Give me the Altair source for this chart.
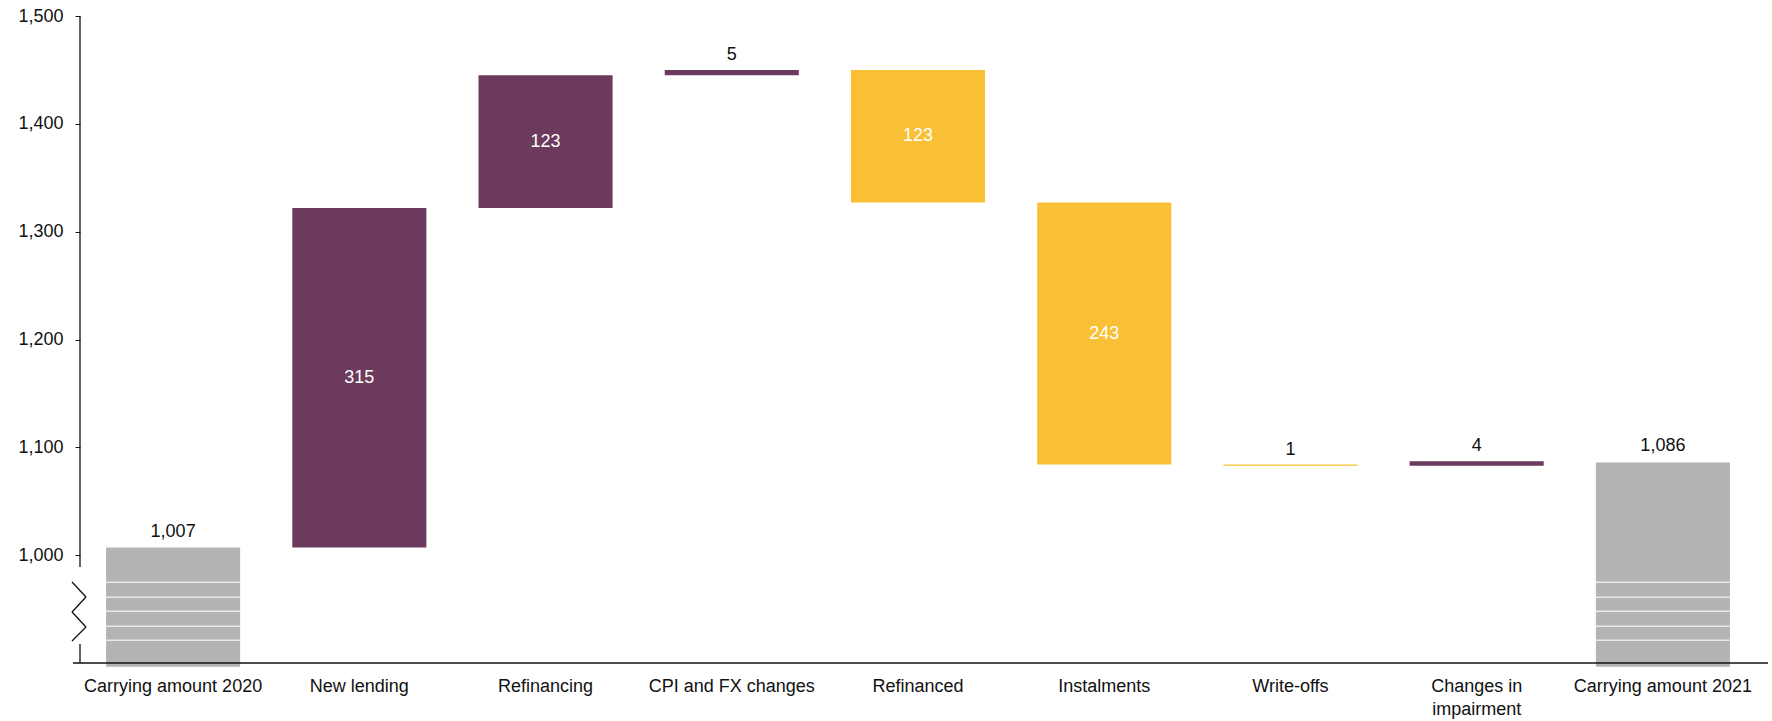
import altair as alt
import pandas as pd

# ---- data ----
categories = ["Carrying amount 2020", "New lending", "Refinancing", "CPI and FX changes",
              "Refinanced", "Instalments", "Write-offs", "Changes in impairment",
              "Carrying amount 2021"]
values = [1007, 315, 123, 5, -123, -243, -1, 4, 1086]
kinds = ["total", "increase", "increase", "increase", "decrease", "decrease",
         "decrease", "increase", "total"]
y_ticks = [1000, 1100, 1200, 1300, 1400, 1500]

# ---- styles ----
PURPLE = "#6B3A5C"
YELLOW = "#FAC035"
GRAY = "#B2B4B1"
TEXT = "#111111"
FONT = "Liberation Sans"
Y_MIN, Y_MAX = 900, 1500
GRAY_BASE = 896.5            # gray bars poke slightly below the baseline
STRIPES = [975, 961, 948, 934, 921]   # white break-lines on the total bars
W, H = 1676, 647

color_of = {"total": GRAY, "increase": PURPLE, "decrease": YELLOW}

rows = []
running = 0
for cat, v, k in zip(categories, values, kinds):
    if k == "total":
        start, end = GRAY_BASE, v
        running = v
    else:
        start, end = running, running + v
        running = end
    label = f"{abs(v):,}"
    if k == "total":
        pos, inside = end, False
    elif abs(v) >= 50:
        pos, inside = (start + end) / 2, True
    else:
        pos, inside = max(start, end), False
    rows.append(dict(cat=cat, start=start, end=end, color=color_of[k],
                     label=label, pos=pos, inside=inside, kind=k))
df = pd.DataFrame(rows)

stripe_rows = [dict(cat=c, lvl=s) for c, k in zip(categories, kinds) if k == "total" for s in STRIPES]
sdf = pd.DataFrame(stripe_rows)

xscale = alt.Scale(domain=categories, paddingInner=0.28, paddingOuter=0.14)
yscale = alt.Scale(domain=[Y_MIN, Y_MAX], nice=False, zero=False)

x_axis = alt.Axis(labelAngle=0, labelFontSize=18, labelFont=FONT, labelColor=TEXT,
                  domain=False, ticks=False, labelPadding=14, labelLineHeight=23,
                  labelLimit=300,
                  labelExpr="datum.label == 'Changes in impairment' ? ['Changes in', 'impairment'] : datum.label")
y_axis = alt.Axis(values=y_ticks, format=",.0f", labelFontSize=18, labelFont=FONT,
                  labelColor=TEXT, tickSize=5, tickColor=TEXT, domain=False,
                  grid=False, labelPadding=12)


def X():
    return alt.X("cat:N", scale=xscale, sort=categories, title=None, axis=x_axis)


def Y(f):
    return alt.Y(f, scale=yscale, title=None, axis=y_axis)


bars = alt.Chart(df).mark_bar().encode(
    x=X(),
    y=Y("start:Q"),
    y2="end:Q",
    color=alt.Color("color:N", scale=None),
)

stripes = alt.Chart(sdf).mark_tick(orient="horizontal", color="white", thickness=1.5, size=134).encode(
    x=X(),
    y=Y("lvl:Q"),
)

lab_in = alt.Chart(df).transform_filter("datum.inside").mark_text(
    font=FONT, fontSize=18, color="white", baseline="middle").encode(
    x=X(),
    y=Y("pos:Q"),
    text="label:N",
)
lab_tot = alt.Chart(df).transform_filter("!datum.inside && datum.kind == 'total'").mark_text(
    font=FONT, fontSize=18, color=TEXT, baseline="bottom", dy=-7).encode(
    x=X(),
    y=Y("pos:Q"),
    text="label:N",
)
lab_small = alt.Chart(df).transform_filter("!datum.inside && datum.kind != 'total'").mark_text(
    font=FONT, fontSize=18, color=TEXT, baseline="bottom", dy=-6).encode(
    x=X(),
    y=Y("pos:Q"),
    text="label:N",
)

one = alt.Data(values=[{}])


def seg(x1, y1, x2, y2, w=1.3):
    return alt.Chart(one).mark_rule(color=TEXT, strokeWidth=w).encode(
        x=alt.value(x1), x2=alt.value(x2), y=alt.value(y1), y2=alt.value(y2))


decor = [
    seg(-7, H, W + 12, H, 1.5),      # x baseline
    seg(0, 0, 0, 551),               # y axis upper part
    seg(0, 628, 0, H),               # y axis lower part
    seg(-8, 566, 6, 581),            # zigzag break
    seg(6, 581, -8, 596),
    seg(-8, 596, 6, 611),
    seg(6, 611, -8, 625),
]

chart = alt.layer(bars, stripes, lab_in, lab_tot, lab_small, *decor).properties(
    width=W, height=H,
    padding={"left": 80, "top": 16, "right": 16, "bottom": 58},
    autosize=alt.AutoSizeParams(type="none"),
).configure(background="white").configure_view(stroke=None)

chart.save("out.html", embed_options={"renderer": "svg", "actions": False})
